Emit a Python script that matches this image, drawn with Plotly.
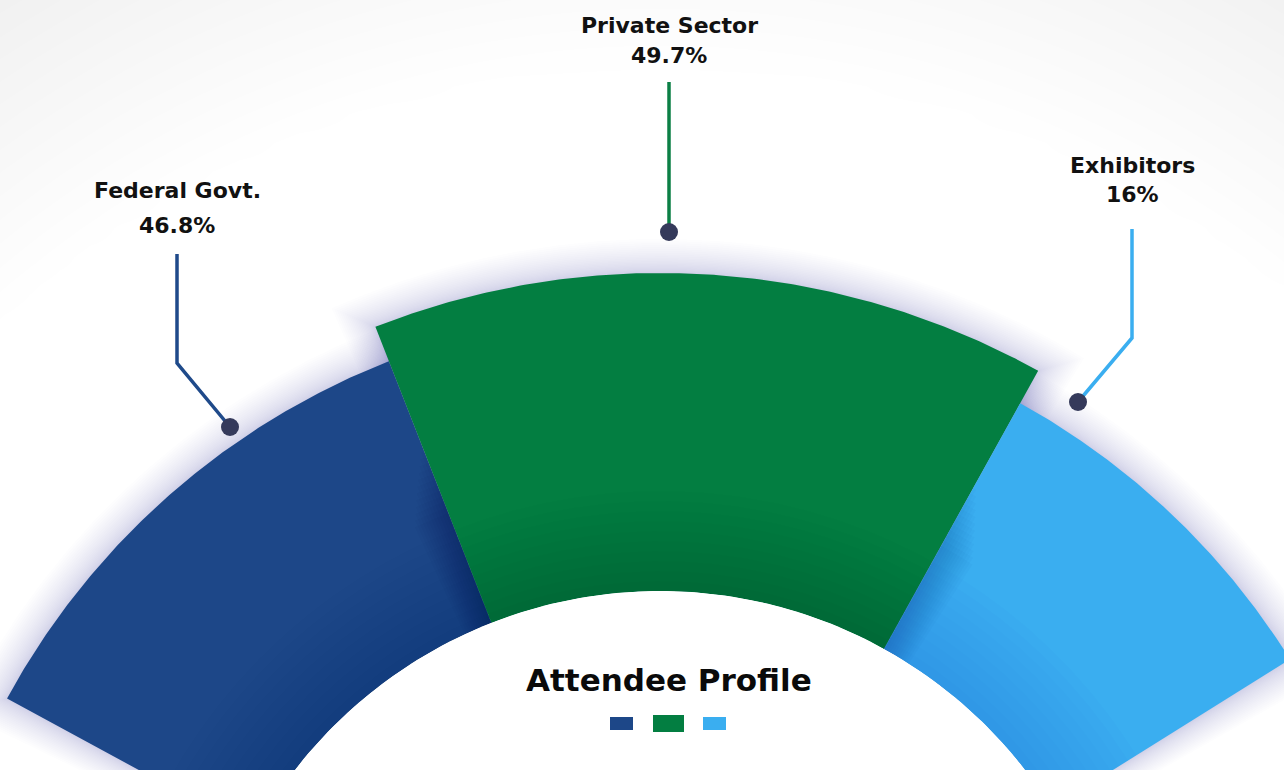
import numpy as np
import plotly.graph_objects as go

# ---------------- data ----------------
categories = ["Federal Govt.", "Private Sector", "Exhibitors"]
shares = [46.8, 49.7, 16.0]
share_labels = ["46.8%", "49.7%", "16%"]
bar_outer = [743, 780, 743]          # outer radius of each sector
arc_start = [-61.5, -21.4, 29.0]     # degrees, clockwise from vertical
arc_end = [-21.4, 29.0, 58.0]
chart_title = "Attendee Profile"

# ---------------- style / layout constants ----------------
W, H = 1284, 770
CXP, CYP = 660, 1053                 # pixel position of the chart centre
HOLE = 462
colors = ["#1d4788", "#037e41", "#3aaef0"]
shade_colors = ["rgba(0,10,60,0.01)", "rgba(0,25,10,0.01)", "rgba(0,40,150,0.012)"]
line_colors = ["#1f4a8a", "#0b7f45", "#3aaef0"]
DOT = "#353a5b"
FONT = "DejaVu Sans, Inter, sans-serif"


def P(xp, yp):
    """pixel -> data coords (origin at chart centre, y up)"""
    return xp - CXP, CYP - yp


def sector(a0, a1, r0, r1, n=160):
    t = np.radians(np.linspace(a0, a1, n))
    xo, yo = r1 * np.sin(t), r1 * np.cos(t)
    xi, yi = r0 * np.sin(t[::-1]), r0 * np.cos(t[::-1])
    return np.r_[xo, xi, xo[:1]], np.r_[yo, yi, yo[:1]]


fig = go.Figure()


def poly(x, y, color, name=None):
    fig.add_trace(go.Scatter(
        x=x, y=y, mode="lines", fill="toself", fillcolor=color,
        line=dict(width=0, color=color),
        hoverinfo="skip" if name is None else "text",
        text=name, showlegend=False, name=name or ""))


# very soft radial background (white centre, faint grey corners)
gx = np.linspace(-CXP, W - CXP, 44)
gy = np.linspace(CYP - H, CYP, 28)
GX, GY = np.meshgrid(gx, gy)
R = np.hypot(GX, GY)
Z = np.clip((R - 980) / 260, 0, 1)
fig.add_trace(go.Heatmap(x=gx, y=gy, z=Z, zmin=0, zmax=1, zsmooth="best",
                         colorscale=[[0, "#ffffff"], [1, "#f1f1f1"]],
                         showscale=False, hoverinfo="skip"))

# outer glow
NG = 24
for i in range(3):
    for k in range(NG, 0, -1):
        d = 34 * (k / NG) ** 1.5
        r1 = bar_outer[i] + d
        da = np.degrees(d / r1)
        x, y = sector(arc_start[i] - da, arc_end[i] + da, HOLE, r1)
        poly(x, y, "rgba(100,108,165,0.01)")

# sectors
for i in range(3):
    x, y = sector(arc_start[i], arc_end[i], HOLE, bar_outer[i])
    poly(x, y, colors[i], name=f"{categories[i]}: {share_labels[i]}")

# inner shading near the hole
for i in range(3):
    for d in range(10, 110, 10):
        x, y = sector(arc_start[i], arc_end[i], HOLE, HOLE + d)
        poly(x, y, shade_colors[i])

# shadow cast by the middle sector on its neighbours
N = 12
for k in range(1, N + 1):
    rr = HOLE + 190 - k * 6
    x, y = sector(arc_end[0] - k * 0.3, arc_end[0], HOLE, rr)
    poly(x, y, "rgba(0,10,50,0.02)")
    x, y = sector(arc_start[2], arc_start[2] + k * 0.3, HOLE, rr)
    poly(x, y, "rgba(0,35,120,0.022)")

# white hole (keeps the centre clean)
t = np.linspace(0, 2 * np.pi, 400)
poly(HOLE * np.sin(t), HOLE * np.cos(t), "#ffffff")

# leader lines (pixel anchors)
leaders = [
    [(177, 254), (177, 363), (230, 427)],
    [(669, 82), (669, 232)],
    [(1132, 229), (1132, 338), (1078, 402)],
]
for i, pts in enumerate(leaders):
    xs, ys = zip(*[P(*p) for p in pts])
    fig.add_trace(go.Scatter(x=xs, y=ys, mode="lines",
                             line=dict(color=line_colors[i], width=3.5),
                             hoverinfo="skip", showlegend=False))
    fig.add_trace(go.Scatter(x=[xs[-1]], y=[ys[-1]], mode="markers",
                             marker=dict(color=DOT, size=18, line=dict(width=0)),
                             hoverinfo="skip", showlegend=False))

# labels
name_pos = [(177, 190), (669, 25), (1132, 165)]
val_pos = [(177, 225), (669, 55), (1132, 194)]
ann = []
for i in range(3):
    x, y = P(*name_pos[i])
    ann.append(dict(x=x, y=y, text=categories[i], showarrow=False,
                    xanchor="center", yanchor="middle",
                    font=dict(family=FONT, size=22, color="#111111", weight=700)))
    x, y = P(*val_pos[i])
    ann.append(dict(x=x, y=y, text=share_labels[i], showarrow=False,
                    xanchor="center", yanchor="middle",
                    font=dict(family=FONT, size=22, color="#111111", weight=700)))
x, y = P(669, 680)
ann.append(dict(x=x, y=y, text=chart_title, showarrow=False,
                xanchor="center", yanchor="middle",
                font=dict(family=FONT, size=31, color="#0a0a0a", weight=700)))

# legend swatches
swatches = [(610, 633, 717, 730), (653, 684, 715, 732), (703, 726, 717, 730)]
shapes = []
for i, (x0p, x1p, y0p, y1p) in enumerate(swatches):
    x0, y1 = P(x0p, y0p)
    x1, y0 = P(x1p, y1p)
    shapes.append(dict(type="rect", x0=x0, x1=x1, y0=y0, y1=y1,
                       fillcolor=colors[i], line=dict(width=0), layer="above"))

fig.update_layout(
    width=W, height=H,
    margin=dict(l=0, r=0, t=0, b=0),
    paper_bgcolor="#ffffff", plot_bgcolor="#ffffff",
    xaxis=dict(range=[-CXP, W - CXP], visible=False, fixedrange=True),
    yaxis=dict(range=[CYP - H, CYP], visible=False, fixedrange=True),
    annotations=ann, shapes=shapes, showlegend=False,
)

fig.write_html("out.html")
